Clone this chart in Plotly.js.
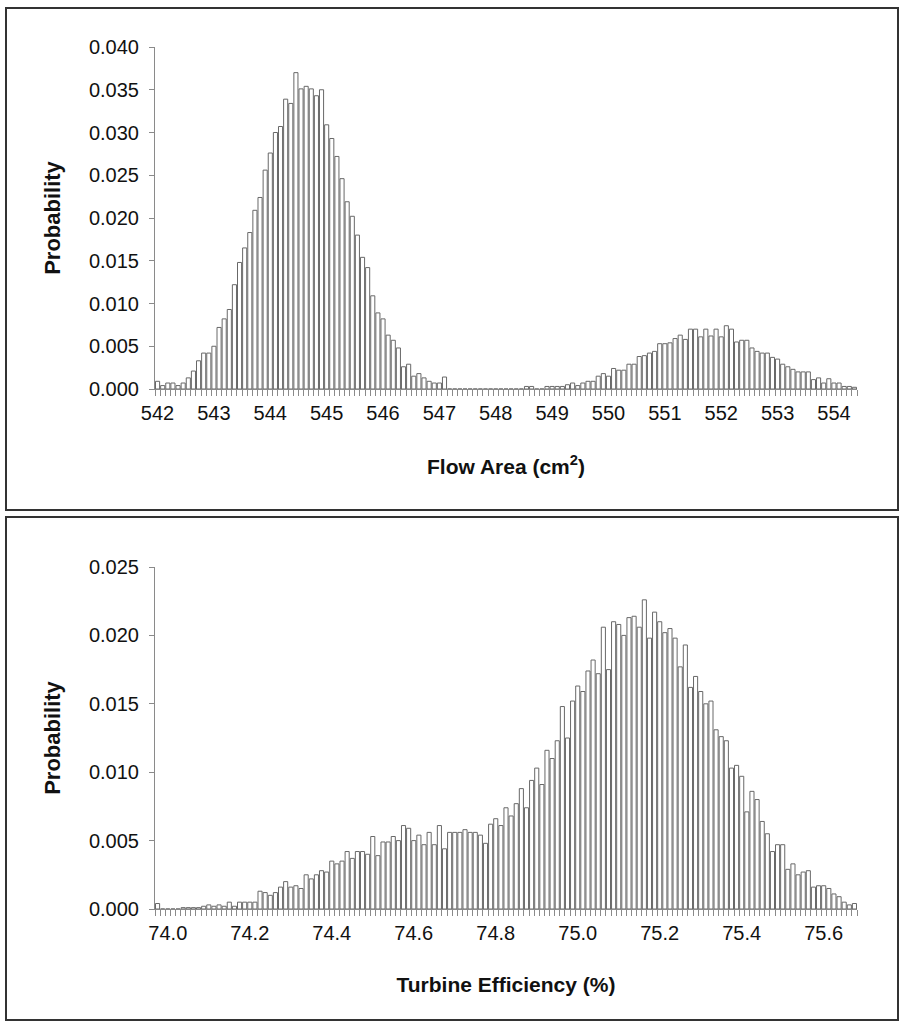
<!DOCTYPE html>
<html>
<head>
<meta charset="utf-8">
<script src="https://cdn.plot.ly/plotly-3.0.1.min.js"></script>
<style>
  html, body { margin: 0; padding: 0; background: #ffffff; }
  #chart { width: 903px; height: 1026px; }
</style>
</head>
<body>
<div id="chart"></div>
<script>
// ---------------- DATA ----------------
// Top panel: Flow Area histogram (bin start and width on the category axis)
const flowBinStart = 542;
const flowBinWidth = 1 / 11;
const flowTickLabels = [542, 543, 544, 545, 546, 547, 548, 549, 550, 551, 552, 553, 554];
const flowProbability = [
  0.0009,0.0004,0.0007,0.0007,0.0004,0.0007,0.0013,0.0021,0.0033,0.0042,
  0.0042,0.0050,0.0072,0.0082,0.0093,0.0122,0.0148,0.0165,0.0183,0.0209,
  0.0224,0.0256,0.0276,0.0300,0.0307,0.0339,0.0334,0.0370,0.0351,0.0354,
  0.0351,0.0343,0.0350,0.0309,0.0293,0.0272,0.0246,0.0219,0.0202,0.0180,
  0.0154,0.0142,0.0109,0.0089,0.0082,0.0063,0.0057,0.0048,0.0026,0.0029,
  0.0015,0.0018,0.0013,0.0009,0.0007,0.0007,0.0014,0,0,0,
  0,0,0,0,0,0,0,0,0,0,
  0,0,0.0003,0.0003,0,0,0.0003,0.0003,0.0003,0.0003,
  0.0005,0.0007,0.0004,0.0007,0.0009,0.0009,0.0015,0.0018,0.0015,0.0024,
  0.0022,0.0022,0.0029,0.0029,0.0038,0.0039,0.0042,0.0044,0.0053,0.0053,
  0.0054,0.0059,0.0063,0.0058,0.0070,0.0070,0.0061,0.0070,0.0062,0.0070,
  0.0061,0.0074,0.0070,0.0055,0.0057,0.0057,0.0048,0.0044,0.0042,0.0042,
  0.0037,0.0035,0.0029,0.0026,0.0023,0.0020,0.0020,0.0020,0.0011,0.0013,
  0.0007,0.0012,0.0007,0.0007,0.0003,0.0003,0.0002
];

// Bottom panel: Turbine Efficiency histogram
const effBinWidth = 0.2 / 16;
const effBinStart = 74.0 - 2 * effBinWidth;
const effTickLabels = [74.0, 74.2, 74.4, 74.6, 74.8, 75.0, 75.2, 75.4, 75.6];
const effProbability = [
  0.0004,0,0,0,0,0.0001,0.0001,0.0001,0.0001,0.0002,
  0.0003,0.0002,0.0003,0.0002,0.0005,0.0002,0.0005,0.0005,0.0005,0.0005,
  0.0013,0.0012,0.0010,0.0012,0.0016,0.0020,0.0016,0.0017,0.0015,0.0025,
  0.0022,0.0025,0.0028,0.0027,0.0035,0.0033,0.0035,0.0042,0.0037,0.0042,
  0.0042,0.0040,0.0053,0.0039,0.0049,0.0049,0.0053,0.0050,0.0061,0.0059,
  0.0050,0.0054,0.0047,0.0056,0.0047,0.0061,0.0044,0.0056,0.0056,0.0056,
  0.0058,0.0056,0.0056,0.0054,0.0048,0.0062,0.0066,0.0061,0.0074,0.0068,
  0.0077,0.0088,0.0074,0.0094,0.0103,0.0091,0.0116,0.0110,0.0123,0.0148,
  0.0125,0.0152,0.0163,0.0159,0.0174,0.0182,0.0172,0.0206,0.0175,0.0210,
  0.0208,0.0200,0.0213,0.0214,0.0206,0.0226,0.0198,0.0217,0.0210,0.0202,
  0.0205,0.0198,0.0177,0.0193,0.0162,0.0170,0.0159,0.0150,0.0152,0.0131,
  0.0126,0.0123,0.0103,0.0105,0.0097,0.0071,0.0086,0.0080,0.0064,0.0055,
  0.0042,0.0047,0.0047,0.0029,0.0033,0.0025,0.0027,0.0028,0.0016,0.0017,
  0.0017,0.0015,0.0011,0.0009,0.0005,0.0003,0.0004
];

// ---------------- BUILD ----------------
function centers(start, width, n) {
  const out = [];
  for (let i = 0; i < n; i++) out.push(start + i * width);
  return out;
}
const flowX = centers(flowBinStart, flowBinWidth, flowProbability.length);
const effX = centers(effBinStart, effBinWidth, effProbability.length);

const barStyle = { color: '#ffffff', line: { color: '#686868', width: 1 } };

const traces = [
  { type: 'bar', x: flowX, y: flowProbability, width: flowBinWidth * 0.8,
    marker: barStyle, xaxis: 'x', yaxis: 'y', hoverinfo: 'skip' },
  { type: 'bar', x: effX, y: effProbability, width: effBinWidth * 0.8,
    marker: barStyle, xaxis: 'x2', yaxis: 'y2', hoverinfo: 'skip' }
];

// Pixel geometry helpers (for the panel frames)
const W = 903, H = 1026;
const M = { l: 155, r: 46, t: 47, b: 117 };
const pw = W - M.l - M.r, ph = H - M.t - M.b;
const px = v => (v - M.l) / pw;
const py = v => (H - M.b - v) / ph;

const tickFont = { family: 'Liberation Sans, Arial, sans-serif', size: 20, color: '#111111' };
const xTitleFont = { family: 'Liberation Sans, Arial, sans-serif', size: 21, color: '#111111' };
const yTitleFont = { family: 'Liberation Sans, Arial, sans-serif', size: 22, color: '#111111' };

function xAxis(start, width, n, ticks, fmt, anchor) {
  return {
    anchor: anchor,
    range: [start - width / 2, start + (n - 0.5) * width],
    tickmode: 'array',
    tickvals: ticks,
    ticktext: ticks.map(fmt),
    ticks: '',
    ticklabelstandoff: 6,
    showline: true, linecolor: '#8a8a8a', linewidth: 1,
    showgrid: false, zeroline: false,
    tickfont: tickFont,
    minor: { tickmode: 'linear', tick0: start - width / 2, dtick: width,
             ticks: 'outside', ticklen: 6, tickcolor: '#8a8a8a', tickwidth: 1, showgrid: false },
    fixedrange: true
  };
}
function yAxis(max, domain, anchor) {
  return {
    anchor: anchor, domain: domain,
    range: [0, max], dtick: 0.005, tick0: 0, tickformat: '.3f',
    ticks: 'outside', ticklen: 5, tickcolor: '#8a8a8a',
    showline: true, linecolor: '#8a8a8a', linewidth: 1,
    showgrid: false, zeroline: false,
    tickfont: tickFont, ticklabelstandoff: 6,
    title: { text: '<b>Probability</b>', font: yTitleFont, standoff: 22 },
    fixedrange: true
  };
}

const topDomain = [py(389), 1];
const botDomain = [0, py(567)];

const layout = {
  width: W, height: H,
  margin: M,
  paper_bgcolor: '#ffffff', plot_bgcolor: '#ffffff',
  showlegend: false,
  xaxis: Object.assign(xAxis(flowBinStart, flowBinWidth, flowProbability.length, flowTickLabels, v => String(v), 'y'),
    { title: { text: '<b>Flow Area (cm<sup>2</sup>)</b>', font: xTitleFont, standoff: 36 } }),
  yaxis: yAxis(0.040, topDomain, 'x'),
  xaxis2: Object.assign(xAxis(effBinStart, effBinWidth, effProbability.length, effTickLabels, v => v.toFixed(1), 'y2'),
    { title: { text: '<b>Turbine Efficiency (%)</b>', font: xTitleFont, standoff: 34 } }),
  yaxis2: yAxis(0.025, botDomain, 'x2'),
  shapes: [
    { type: 'rect', xref: 'paper', yref: 'paper', x0: px(6), x1: px(898), y0: py(510), y1: py(8),
      line: { color: '#333333', width: 2 }, fillcolor: 'rgba(0,0,0,0)', layer: 'below' },
    { type: 'rect', xref: 'paper', yref: 'paper', x0: px(6), x1: px(898), y0: py(1020), y1: py(517),
      line: { color: '#333333', width: 2 }, fillcolor: 'rgba(0,0,0,0)', layer: 'below' }
  ]
};

Plotly.newPlot('chart', traces, layout, { staticPlot: true, displayModeBar: false });
</script>
</body>
</html>
